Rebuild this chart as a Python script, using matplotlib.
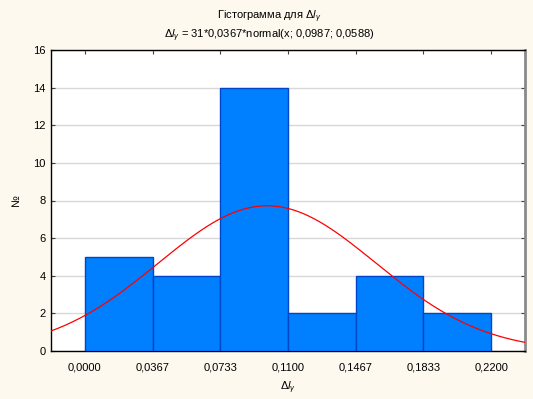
"""
Histogram of delta l_gamma with fitted normal curve (STATISTICA style).
"""
import numpy as np
import matplotlib
matplotlib.use("Agg")
from matplotlib import pyplot as plt

# data
bin_edges = [0.0, 0.0367, 0.0733, 0.1100, 0.1467, 0.1833, 0.2200]
counts = [5, 4, 14, 2, 4, 2]
tick_labels = ["0,0000", "0,0367", "0,0733", "0,1100", "0,1467", "0,1833", "0,2200"]
n_obs = 31
bin_width = 0.0367
mu = 0.0987
sigma = 0.0588

plt.rcParams['font.family'] = ['Liberation Sans', 'DejaVu Sans']
plt.rcParams['mathtext.fontset'] = 'custom'
plt.rcParams['mathtext.rm'] = 'Liberation Sans'
plt.rcParams['mathtext.it'] = 'Liberation Sans:italic'

bg = '#fdf9ef'
fig = plt.figure(figsize=(5.33, 3.99), dpi=100, facecolor=bg)
ax = fig.add_axes([51 / 533, 1 - 351 / 399, (525 - 51) / 533, (351 - 50) / 399])

lefts = bin_edges[:-1]
widths = np.diff(bin_edges)
ax.bar(lefts, counts, width=widths, align='edge', color='#0080ff',
       edgecolor='#0046c8', linewidth=1.0, zorder=3)

# fitted normal curve
x = np.linspace(-0.0184, 0.2384, 400)
y = n_obs * bin_width * np.exp(-0.5 * ((x - mu) / sigma) ** 2) / (sigma * np.sqrt(2 * np.pi))
ax.plot(x, y, color='#ff0000', linewidth=0.9, zorder=4)

ax.set_xlim(-0.01835, 0.23835)
ax.set_ylim(0, 16)
ax.set_xticks(bin_edges)
ax.set_xticklabels(tick_labels)
ax.set_yticks(range(0, 17, 2))
ax.yaxis.grid(True, color='#d8d8d8', linewidth=1.0, zorder=0)
ax.set_axisbelow(True)

ax.tick_params(axis='both', labelsize=8, length=3, width=0.8, color='#404040',
               direction='in', top=True, right=True, pad=8)
ax.tick_params(axis='y', pad=4)

for side in ['left', 'bottom', 'top']:
    ax.spines[side].set_color('black')
    ax.spines[side].set_linewidth(1.0)
ax.spines['right'].set_color('#8a8a8a')
ax.spines['right'].set_linewidth(2.0)

ax.set_ylabel('№', fontsize=8)
ax.yaxis.set_label_coords(-30 / 474, 0.5)
ax.set_xlabel(r'$\Delta l_\gamma$', fontsize=8)
ax.xaxis.set_label_coords(0.5, -29 / 301)

fig.text(0.505, 1 - 17 / 399, r'Гістограмма для $\Delta l_\gamma$',
         ha='center', va='center', fontsize=8)
fig.text(0.505, 1 - 36 / 399, r'$\Delta l_\gamma$ = 31*0,0367*normal(x; 0,0987; 0,0588)',
         ha='center', va='center', fontsize=8)

fig.savefig('out.png', dpi=100, facecolor=bg)
